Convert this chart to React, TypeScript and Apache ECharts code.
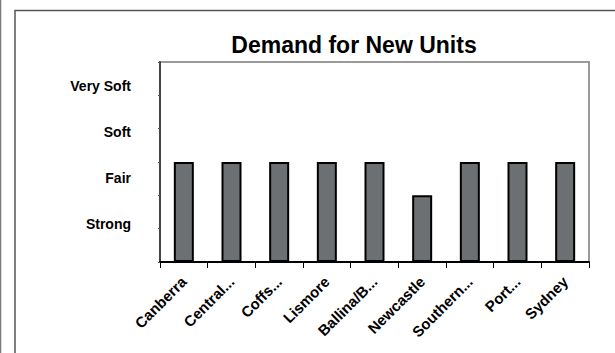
import React, { useEffect, useRef } from "react";
import * as echarts from "echarts";

const categories = ["Canberra", "Central...", "Coffs...", "Lismore", "Ballina/B...", "Newcastle", "Southern...", "Port...", "Sydney"];
const demandValues = [3, 3, 3, 3, 3, 2, 3, 3, 3];
const levelValues = [1, 2, 3, 4];
const levelLabels = ["Strong", "Fair", "Soft", "Very Soft"];
const chartTitle = "Demand for New Units";

const FONT = "'Liberation Sans', Arial, sans-serif";

export default function App() {
  const ref = useRef<HTMLDivElement>(null);
  useEffect(() => {
    if (!ref.current) return;
    const chart = echarts.init(ref.current, undefined, { renderer: "svg" });
    chart.setOption({
      animation: false,
      backgroundColor: "#ffffff",
      grid: {
        left: 160,
        right: 26,
        top: 62,
        bottom: 91,
        show: true,
        borderColor: "#9a9a9a",
        borderWidth: 2,
        backgroundColor: "#ffffff",
      },
      graphic: [
        { type: "line", shape: { x1: 0.5, y1: 0, x2: 0.5, y2: 353 }, style: { stroke: "#7a7a7a", lineWidth: 1.5 } },
        { type: "rect", shape: { x: 15, y: 10.5, width: 700, height: 400 }, style: { fill: "none", stroke: "#555555", lineWidth: 1.5 } },
        {
          type: "text",
          x: 354,
          y: 45,
          style: {
            text: chartTitle,
            fontFamily: FONT,
            fontWeight: "bold",
            fontSize: 23,
            fill: "#000000",
            align: "center",
            verticalAlign: "middle",
          },
        },
      ],
      xAxis: {
        type: "category",
        data: categories,
        axisLine: { show: true, lineStyle: { color: "#000000", width: 2 } },
        axisTick: { show: true, length: 6, lineStyle: { color: "#000000", width: 1 } },
        axisLabel: {
          interval: 0,
          rotate: 45,
          margin: 17,
          fontFamily: FONT,
          fontWeight: "bold",
          fontSize: 15,
          color: "#000000",
        },
        splitLine: { show: false },
      },
      yAxis: [
        {
          type: "value",
          min: 0,
          max: 6,
          interval: 1,
          axisLine: { show: true, lineStyle: { color: "#444444", width: 2 } },
          axisTick: { show: true, length: 2, lineStyle: { color: "#555555", width: 1 } },
          axisLabel: { show: false },
          splitLine: { show: false },
        },
        {
          type: "value",
          position: "left",
          min: 0.178,
          max: 4.52,
          axisLine: { show: false },
          axisTick: { show: false },
          splitLine: { show: false },
          axisLabel: {
            show: true,
            customValues: levelValues,
            margin: 29,
            fontFamily: FONT,
            fontWeight: "bold",
            fontSize: 14,
            color: "#000000",
            formatter: (v: number) => {
              const i = levelValues.indexOf(Math.round(v));
              return i >= 0 ? levelLabels[i] : "";
            },
          },
        },
      ],
      series: [
        {
          type: "bar",
          data: demandValues,
          yAxisIndex: 0,
          barWidth: 20,
          itemStyle: { color: "#6d7073", borderColor: "#000000", borderWidth: 2 },
        },
      ],
    });
    return () => chart.dispose();
  }, []);
  return <div ref={ref} style={{ position: "fixed", left: 0, top: 0, width: 615, height: 353 }} />;
}
